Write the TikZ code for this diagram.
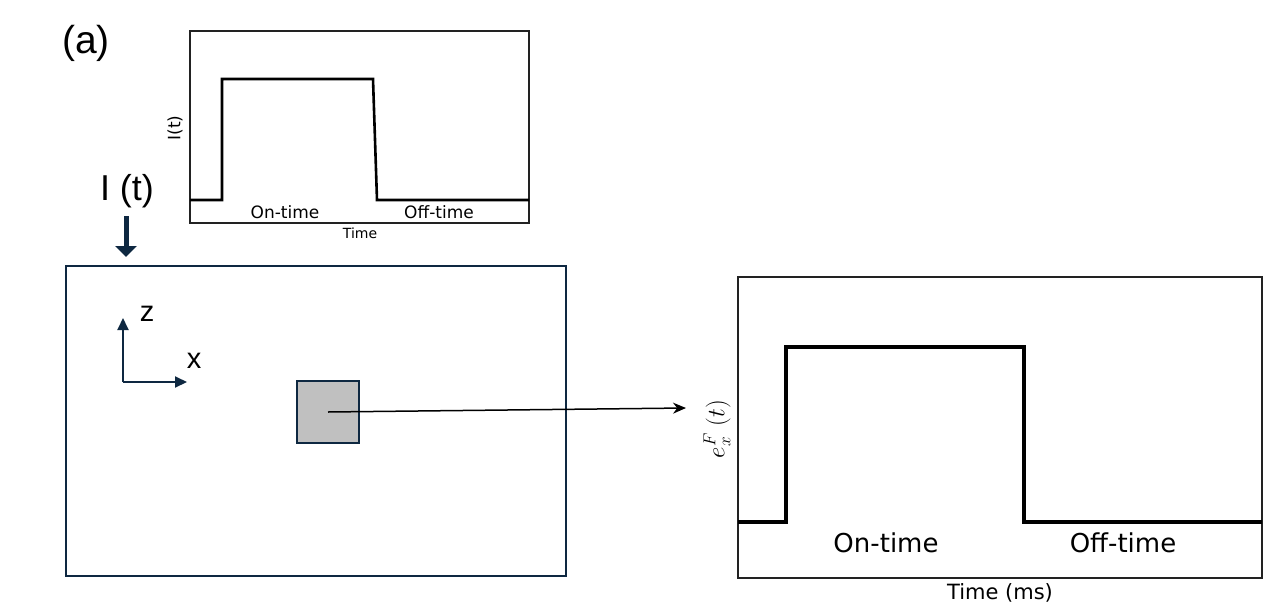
\documentclass[tikz,border=0pt]{standalone}
\usepackage{fontspec}
\setmainfont{Liberation Sans}
\newfontfamily\dv{DejaVu Sans}
\usetikzlibrary{arrows.meta}
\definecolor{navy}{HTML}{0E2841}
\definecolor{sqgray}{HTML}{C0C0C0}
\definecolor{frame}{HTML}{222222}
\tikzset{
  plotbox/.style={draw=frame, line width=1.2pt, inner sep=0pt},
  mainbox/.style={draw=navy, line width=2pt, inner sep=0pt},
  axisarrow/.style={draw=navy, line width=2pt, -{Triangle[length=12pt,width=11pt]}},
  bigtxt/.style={inner sep=0pt, font=\fontsize{36}{40}\selectfont},
  axtxt/.style={inner sep=0pt, font=\fontsize{29}{32}\selectfont},
  smalltxt/.style={inner sep=0pt, font=\dv\fontsize{17}{20}\selectfont},
  tinytxt/.style={inner sep=0pt, font=\dv\fontsize{14}{16}\selectfont},
  midtxt/.style={inner sep=0pt, font=\dv\fontsize{26}{30}\selectfont},
  labtxt/.style={inner sep=0pt, font=\dv\fontsize{21}{24}\selectfont},
}
\begin{document}
\begin{tikzpicture}[x=1pt,y=-1pt]
\useasboundingbox (0,0) rectangle (1271,613);
% (a)
\node[bigtxt, font=\fontsize{39}{43}\selectfont] (lbla) at (86,43) {(a)};
% top plot
\node[plotbox, minimum width=339pt, minimum height=192pt] (topplot) at (359.5,127) {};
\draw[line width=2.6pt, line join=miter] (190,200) -- (222,200) -- (222,79) -- (373,79) -- (377,200) -- (529,200);
\node[smalltxt, rotate=90] (topylab) at (175,128) {I(t)};
\node[smalltxt] (topon) at (285,212) {On-time};
\node[smalltxt] (topoff) at (439,212) {Off-time};
\node[tinytxt] (toptime) at (360,233) {Time};
% I(t) arrow
\node[bigtxt] (itlab) at (127,191) {I (t)};
\coordinate (itop) at (126,216);
\coordinate (ibot) at (126,257);
\draw[draw=navy, fill=navy, line width=5pt, -{Triangle[length=11pt,width=21pt]}] (itop) -- (ibot);
% main box
\node[mainbox, minimum width=500pt, minimum height=310pt] (domain) at (316,421) {};
% axes
\coordinate (orig) at (123,382);
\coordinate (zend) at (123,318);
\coordinate (xend) at (187,382);
\draw[axisarrow, fill=navy] (orig) -- (zend);
\draw[axisarrow, fill=navy] (orig) -- (xend);
\node[axtxt] (zlab) at (147,314) {z};
\node[axtxt] (xlab) at (194,361) {x};
% square
\node[draw=navy, fill=sqgray, line width=1.8pt, minimum size=62pt, inner sep=0pt] (sq) at (328,412) {};
% right plot
\node[plotbox, line width=1.4pt, minimum width=524pt, minimum height=301pt] (rplot) at (1000,427.5) {};
\draw[line width=3.6pt, line join=miter] (738,522) -- (786,522) -- (786,347) -- (1024,347) -- (1024,522) -- (1262,522);
\node[midtxt] (ron) at (886,543) {On-time};
\node[midtxt] (roff) at (1123,543) {Off-time};
\node[labtxt] (rtime) at (1000,593) {Time (ms)};
\node[inner sep=0pt, rotate=90, font=\fontsize{27}{31}\selectfont] (rylab) at (717,429) {$e_x^F\;(t)$};
% connector
\coordinate (tipR) at (686,408);
\draw[line width=1.5pt, -{Stealth[length=13pt,width=11pt]}] (sq.center) -- (tipR);
\end{tikzpicture}
\end{document}
